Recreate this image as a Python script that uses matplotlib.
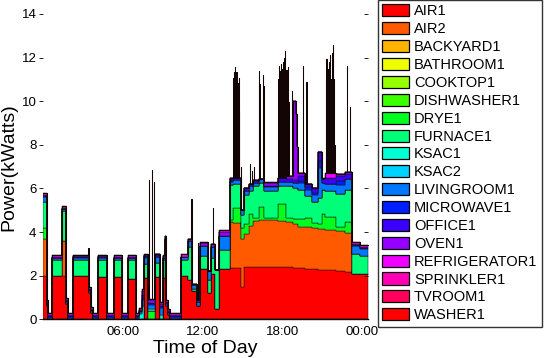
import numpy as np
import matplotlib
matplotlib.use("Agg")
import matplotlib.pyplot as plt
from matplotlib.patches import Patch
from matplotlib.colors import hsv_to_rgb

plt.rcParams['font.family'] = ['Liberation Sans', 'DejaVu Sans']

names = ["AIR1", "AIR2", "BACKYARD1", "BATHROOM1", "COOKTOP1", "DISHWASHER1",
         "DRYE1", "FURNACE1", "KSAC1", "KSAC2", "LIVINGROOM1", "MICROWAVE1",
         "OFFICE1", "OVEN1", "REFRIGERATOR1", "SPRINKLER1", "TVROOM1", "WASHER1"]

END_H = 24.42

# segment start times (hours) shared by the main loads
seg_t = [0.00, 0.30, 0.38, 0.73, 1.48, 1.78, 1.90, 2.30, 3.50, 3.62, 3.75, 4.18,
         4.85, 5.35, 5.93, 6.38, 6.98, 7.25, 7.45, 7.60, 7.93, 8.45, 8.80, 9.05,
         9.15, 9.28, 9.42, 9.55, 10.38, 10.88, 11.20, 11.55, 11.80, 12.40, 12.65, 12.95,
         13.20, 14.05, 14.30, 14.85, 15.10, 15.45, 15.80, 16.20, 16.60, 17.70, 18.25, 18.80,
         19.00, 19.10, 19.20, 19.70, 20.20, 20.70, 20.95, 21.20, 22.00, 22.70, 23.25, 23.80]

AIR1 = [2.00, 0.60, 0.00, 2.00, 2.00, 0.70, 0.00, 2.00, 1.20, 0.30, 0.00, 1.95,
        0.00, 1.95, 0.00, 1.85, 0.00, 0.00, 0.00, 1.88, 0.00, 1.95, 0.00, 1.90,
        3.60, 0.60, 0.20, 0.00, 2.00, 1.80, 1.30, 0.60, 2.30, 1.20, 2.10, 0.45,
        2.30, 2.35, 2.35, 1.50, 2.40, 2.40, 2.40, 2.40, 2.40, 2.40, 2.40, 2.35,
        2.35, 2.35, 2.35, 2.30, 2.30, 2.25, 2.25, 2.25, 2.20, 2.15, 2.10, 2.07]
AIR2 = [1.70, 0.00, 0.00, 0.00, 1.60, 0.00, 0.00, 0.00, 0.00, 0.00, 0.00, 0.00,
        0.00, 0.00, 0.00, 0.00, 0.00, 0.00, 0.00, 0.00, 0.00, 0.00, 0.00, 0.00,
        0.00, 0.00, 0.00, 0.00, 0.00, 0.00, 0.00, 0.00, 0.00, 0.00, 0.00, 0.00,
        0.00, 2.10, 2.05, 2.20, 1.50, 1.90, 2.10, 2.15, 2.15, 2.10, 2.05, 2.00,
        2.00, 2.00, 1.90, 1.95, 1.90, 1.90, 1.90, 1.85, 1.85, 1.80, 0.00, 0.00]
DRYE1 = [0.50, 0.00, 0.00, 0.00, 0.00, 0.00, 0.00, 0.00, 0.00, 0.00, 0.00, 0.00,
         0.00, 0.00, 0.00, 0.00, 0.00, 0.00, 0.00, 0.00, 0.40, 0.00, 0.00, 0.00,
         0.00, 0.00, 0.00, 0.00, 0.00, 0.00, 0.00, 0.00, 0.00, 0.00, 0.00, 0.00,
         0.00, 0.12, 0.70, 0.50, 0.45, 0.55, 0.15, 0.60, 0.10, 0.80, 0.20, 0.25,
         0.25, 0.25, 0.35, 0.40, 0.20, 0.20, 0.70, 0.60, 0.20, 0.50, 0.00, 0.00]
FURNACE1 = [1.20, 0.00, 0.00, 0.70, 1.35, 0.00, 0.00, 0.72, 0.00, 0.00, 0.00, 0.78,
            0.00, 0.75, 0.00, 0.85, 0.00, 0.00, 0.00, 0.65, 0.00, 0.65, 0.00, 0.80,
            0.00, 0.00, 0.00, 0.00, 0.70, 1.50, 0.10, 0.00, 0.60, 0.60, 0.70, 1.80,
            0.90, 1.58, 1.10, 0.60, 1.35, 1.05, 1.45, 1.10, 1.25, 0.80, 1.45, 1.40,
            1.40, 1.40, 1.35, 1.00, 1.00, 1.20, 1.10, 1.20, 1.50, 1.50, 0.90, 0.85]
KSAC1 = [0.00, 0.00, 0.00, 0.00, 0.00, 0.00, 0.00, 0.00, 0.00, 0.00, 0.00, 0.00,
         0.00, 0.00, 0.00, 0.00, 0.00, 0.25, 0.60, 0.00, 0.05, 0.00, 0.20, 0.00,
         0.00, 0.00, 0.00, 0.00, 0.00, 0.00, 0.00, 0.00, 0.00, 0.00, 0.00, 0.00,
         0.00, 0.00, 0.00, 0.00, 0.00, 0.00, 0.00, 0.00, 0.00, 0.00, 0.00, 0.00,
         0.00, 0.00, 0.00, 0.00, 0.00, 0.00, 0.00, 0.00, 0.00, 0.00, 0.00, 0.00]
LIVINGROOM1 = [0.20, 0.08, 0.08, 0.10, 0.10, 0.08, 0.08, 0.10, 0.08, 0.08, 0.08, 0.10,
               0.08, 0.10, 0.08, 0.10, 0.08, 0.08, 0.30, 0.30, 0.20, 0.25, 0.30, 0.10,
               0.10, 0.08, 0.08, 0.08, 0.15, 0.30, 0.15, 0.20, 0.45, 0.40, 0.50, 0.00,
               0.60, 0.15, 0.20, 0.20, 0.20, 0.20, 0.15, 0.20, 0.15, 0.20, 0.20, 0.25,
               0.25, 0.25, 0.30, 0.30, 0.30, 1.40, 0.30, 0.30, 0.40, 0.50, 0.35, 0.30]
MICROWAVE1 = [0.05, 0.05, 0.05, 0.03, 0.03, 0.05, 0.05, 0.03, 0.05, 0.05, 0.05, 0.03,
              0.05, 0.03, 0.05, 0.03, 0.05, 0.05, 0.05, 0.05, 0.10, 0.00, 0.10, 0.00,
              0.00, 0.05, 0.05, 0.05, 0.00, 0.00, 0.00, 0.00, 0.00, 0.00, 0.00, 0.00,
              0.00, 0.05, 0.00, 0.00, 0.00, 0.00, 0.00, 0.00, 0.05, 0.00, 0.00, 0.00,
              0.00, 0.00, 0.10, 0.10, 0.10, 0.30, 0.00, 0.00, 0.20, 0.00, 0.05, 0.05]
OFFICE1 = [0.00, 0.00, 0.00, 0.00, 0.00, 0.00, 0.00, 0.00, 0.00, 0.00, 0.00, 0.00,
           0.00, 0.00, 0.00, 0.00, 0.00, 0.00, 0.15, 0.00, 0.00, 0.10, 0.00, 0.00,
           0.00, 0.00, 0.00, 0.00, 0.00, 0.00, 0.00, 0.00, 0.00, 0.00, 0.00, 0.00,
           0.00, 0.10, 0.10, 0.00, 0.10, 0.10, 0.10, 0.00, 0.00, 0.20, 0.15, 0.15,
           0.15, 0.15, 0.20, 0.15, 0.20, 0.40, 0.20, 0.30, 0.20, 0.20, 0.00, 0.00]
OVEN1 = [0.05, 0.05, 0.05, 0.03, 0.03, 0.05, 0.05, 0.03, 0.05, 0.05, 0.05, 0.03,
         0.05, 0.03, 0.05, 0.03, 0.05, 0.05, 0.20, 0.05, 0.15, 0.05, 0.10, 0.10,
         0.10, 0.05, 0.05, 0.05, 0.00, 0.10, 0.05, 0.10, 0.15, 0.00, 0.15, 0.00,
         0.20, 0.05, 0.00, 0.00, 0.00, 0.00, 0.05, 0.00, 0.15, 0.00, 0.10, 3.60,
         3.00, 1.50, 0.15, 0.00, 0.00, 0.00, 0.00, 0.00, 0.10, 0.10, 0.05, 0.05]
REFRIGERATOR1 = [0.10, 0.10, 0.10, 0.08, 0.08, 0.10, 0.10, 0.08, 0.10, 0.10, 0.10, 0.08,
                 0.10, 0.08, 0.10, 0.08, 0.10, 0.10, 0.10, 0.05, 0.05, 0.00, 0.10, 0.05,
                 0.00, 0.10, 0.10, 0.10, 0.15, 0.00, 0.00, 0.00, 0.05, 0.00, 0.00, 0.00,
                 0.10, 0.00, 0.00, 0.00, 0.00, 0.00, 0.00, 0.00, 0.05, 0.00, 0.00, 0.00,
                 0.00, 0.00, 0.00, 0.00, 0.00, 0.00, 0.05, 0.20, 0.00, 0.00, 0.10, 0.08]

# short bursts (spikes) on top: start time (h) and height (kW)
WASHER1_t = [3.43,
             7.96, 8.17, 8.36,
             11.16, 11.66, 12.78,
             14.30, 14.34, 14.38, 14.42, 14.46, 14.50, 14.54, 14.58, 14.62, 14.66, 14.70, 14.74,
             14.88,
             15.55, 15.70, 15.85,
             16.22, 16.26, 16.52, 16.56,
             17.70, 17.74, 17.78, 17.82, 17.86, 17.90, 17.94, 17.98, 18.02, 18.06, 18.10, 18.14,
             18.18, 18.22, 18.26, 18.30, 18.34, 18.40, 18.44, 18.68,
             19.55, 19.80,
             21.25, 21.30, 21.35, 21.40, 21.45, 21.50, 21.55, 21.60, 21.65, 21.70, 21.75, 21.80,
             21.85, 21.90,
             22.85, 23.05]
WASHER1_v = [0.30,
             5.45, 5.90, 5.35,
             1.80, 2.60, 1.65,
             4.55, 4.85, 1.55, 5.05, 4.55, 2.55, 4.85, 4.05, 1.05, 4.35, 3.05, 4.55,
             2.00,
             0.90, 0.60, 0.60,
             4.95, 4.35, 4.75, 4.25,
             4.50, 5.10, 3.50, 4.90, 5.20, 2.50, 5.00, 4.70, 1.50, 5.30, 5.50, 4.00,
             5.80, 4.50, 2.90, 4.90, 0.90, 5.00, 3.40, 3.90,
             4.90, 4.70,
             4.30, 5.25, 3.30, 4.80, 2.30, 5.10, 5.40, 3.80, 4.30, 2.80, 5.50, 5.90,
             4.30, 1.30,
             4.85, 3.00]
SPIKE_W = 0.024  # drawing width of one burst, hours

# turn bursts into a step description (burst on, then off)
w_t, w_v = [], []
for t0, v0 in zip(WASHER1_t, WASHER1_v):
    w_t += [t0, t0 + SPIKE_W]
    w_v += [v0, 0.0]

series = {
    "AIR1": (seg_t, AIR1), "AIR2": (seg_t, AIR2),
    "DRYE1": (seg_t, DRYE1), "FURNACE1": (seg_t, FURNACE1), "KSAC1": (seg_t, KSAC1),
    "LIVINGROOM1": (seg_t, LIVINGROOM1), "MICROWAVE1": (seg_t, MICROWAVE1),
    "OFFICE1": (seg_t, OFFICE1), "OVEN1": (seg_t, OVEN1),
    "REFRIGERATOR1": (seg_t, REFRIGERATOR1), "WASHER1": (w_t, w_v),
}

grid = np.unique(np.concatenate([seg_t, w_t, [END_H]]))
starts = grid[:-1]


def step_values(tc, vc, x):
    tc = np.asarray(tc, float)
    vc = np.asarray(vc, float)
    idx = np.searchsorted(tc, x, side="right") - 1
    return np.where(idx >= 0, vc[np.clip(idx, 0, None)], 0.0)


colors = [hsv_to_rgb((i / 17.0 if i < 17 else 0.0, 1.0, 1.0)) for i in range(18)]

fig = plt.figure(figsize=(5.5, 3.58), dpi=100)
ax = fig.add_axes([42.7 / 550, 38.7 / 358, (368 - 42.7) / 550, (319.3 - 14) / 358])

base = np.zeros(len(starts))
for name, col in zip(names, colors):
    if name not in series:
        continue
    tc, vc = series[name]
    v = step_values(tc, vc, starts)
    top = base + v
    lw = 0.75 if name == "WASHER1" else 0.35
    ec = "#140505" if name == "WASHER1" else "#1a1010"
    ax.fill_between(grid, np.append(base, base[-1]), np.append(top, top[-1]),
                    step="post", facecolor=col, edgecolor=ec, linewidth=lw)
    base = top

ax.set_xlim(0, END_H)
ax.set_ylim(0, 14)
ax.set_xticks([6, 12, 18, 24])
ax.set_xticklabels(["06:00", "12:00", "18:00", "00:00"])
ax.set_yticks([0, 2, 4, 6, 8, 10, 12, 14])
for s in ["top", "right", "left"]:
    ax.spines[s].set_visible(False)
ax.spines["bottom"].set_linewidth(1.0)
ax.tick_params(axis="x", length=0, labelsize=9.5, pad=5)
ax.tick_params(axis="y", length=3, width=0.6, labelsize=9.5, pad=1.5, direction="out")

ax2 = ax.twinx()
ax2.set_ylim(0, 14)
ax2.set_yticks([2, 4, 6, 8, 10, 12, 14])
ax2.tick_params(axis="y", length=3, width=0.6, direction="in", labelright=False)
for s in ["top", "right", "left", "bottom"]:
    ax2.spines[s].set_visible(False)

ax.set_xlabel("Time of Day", fontsize=14, labelpad=1)
ax.set_ylabel("Power(kWatts)", fontsize=14, labelpad=3)

handles = [Patch(facecolor=c, edgecolor="black", linewidth=0.9) for c in colors]
leg = fig.legend(handles, names, loc="upper left", bbox_to_anchor=(377.5 / 550, 1.0),
                 bbox_transform=fig.transFigure, frameon=True, fancybox=False,
                 fontsize=10.5, handlelength=1.85, handleheight=0.9, labelspacing=0.26,
                 handletextpad=0.35, borderpad=0.3, borderaxespad=0.0)
leg.get_frame().set_edgecolor("black")
leg.get_frame().set_linewidth(1.0)

fig.savefig("out.png", dpi=100)
